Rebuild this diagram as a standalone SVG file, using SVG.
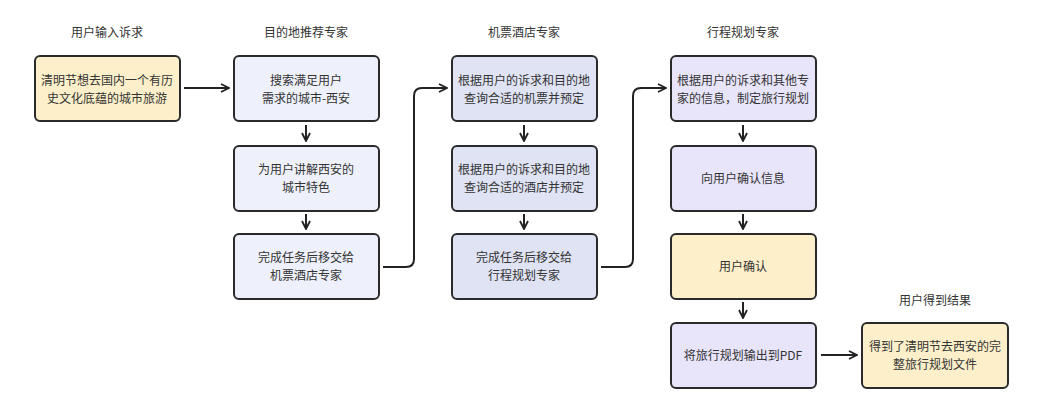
<svg xmlns="http://www.w3.org/2000/svg" width="1041" height="420" viewBox="0 0 1041 420">
<style>
text{font-family:"Noto Sans CJK SC","Noto Sans",sans-serif;font-size:12px;fill:#333;text-anchor:middle}
.b{stroke:#2a2a2a;stroke-width:2}
.y{fill:#fcefc9}.l{fill:#eef1fb}.d{fill:#dfe3f3}.p{fill:#e8e5fb}
.c{fill:none;stroke:#222;stroke-width:2;marker-end:url(#a)}
</style>
<defs><marker id="a" viewBox="0 0 10 10" refX="9" refY="5" markerWidth="10" markerHeight="10" markerUnits="userSpaceOnUse" orient="auto"><path d="M1 1L9 5L1 9" fill="none" stroke="#222" stroke-width="1.8"/></marker></defs>
<rect width="1041" height="420" fill="#fff"/>
<g id="titles">
<text x="107" y="37">用户输入诉求</text>
<text x="306" y="37">目的地推荐专家</text>
<text x="524" y="37">机票酒店专家</text>
<text x="743" y="37">行程规划专家</text>
<text x="935" y="305">用户得到结果</text>
</g>
<g id="n1"><rect class="b y" x="35" y="56" width="145" height="65" rx="5"/><text x="107" y="85">清明节想去国内一个有历</text><text x="107" y="103">史文化底蕴的城市旅游</text></g>
<g id="n2"><rect class="b l" x="234" y="56" width="145" height="65" rx="5"/><text x="306" y="85">搜索满足用户</text><text x="306" y="103">需求的城市-西安</text></g>
<g id="n3"><rect class="b l" x="234" y="146" width="145" height="65" rx="5"/><text x="306" y="174">为用户讲解西安的</text><text x="306" y="192">城市特色</text></g>
<g id="n4"><rect class="b l" x="234" y="234" width="145" height="65" rx="5"/><text x="306" y="262">完成任务后移交给</text><text x="306" y="280">机票酒店专家</text></g>
<g id="n5"><rect class="b d" x="452" y="56" width="145" height="65" rx="5"/><text x="524" y="85">根据用户的诉求和目的地</text><text x="524" y="103">查询合适的机票并预定</text></g>
<g id="n6"><rect class="b d" x="452" y="146" width="145" height="65" rx="5"/><text x="524" y="174">根据用户的诉求和目的地</text><text x="524" y="192">查询合适的酒店并预定</text></g>
<g id="n7"><rect class="b d" x="452" y="234" width="145" height="65" rx="5"/><text x="524" y="262">完成任务后移交给</text><text x="524" y="280">行程规划专家</text></g>
<g id="n8"><rect class="b p" x="671" y="56" width="145" height="65" rx="5"/><text x="743" y="85">根据用户的诉求和其他专</text><text x="743" y="103">家的信息，制定旅行规划</text></g>
<g id="n9"><rect class="b p" x="671" y="146" width="145" height="65" rx="5"/><text x="743" y="183">向用户确认信息</text></g>
<g id="n10"><rect class="b y" x="671" y="234" width="145" height="65" rx="5"/><text x="743" y="271">用户确认</text></g>
<g id="n11"><rect class="b p" x="671" y="323" width="145" height="65" rx="5"/><text x="743" y="360">将旅行规划输出到PDF</text></g>
<g id="n12"><rect class="b y" x="862" y="323" width="146" height="65" rx="5"/><text x="935" y="351">得到了清明节去西安的完</text><text x="935" y="369">整旅行规划文件</text></g>
<g id="connectors">
<path class="c" d="M184 88H229"/>
<path class="c" d="M306 125V141"/>
<path class="c" d="M306 214V229"/>
<path class="c" d="M383 267H406Q414 267 414 259V96Q414 88 422 88H447"/>
<path class="c" d="M524 125V141"/>
<path class="c" d="M524 214V229"/>
<path class="c" d="M601 267H625Q633 267 633 259V96Q633 88 641 88H666"/>
<path class="c" d="M743 125V141"/>
<path class="c" d="M743 214V229"/>
<path class="c" d="M743 302V318"/>
<path class="c" d="M821 355H857"/>
</g>
</svg>
